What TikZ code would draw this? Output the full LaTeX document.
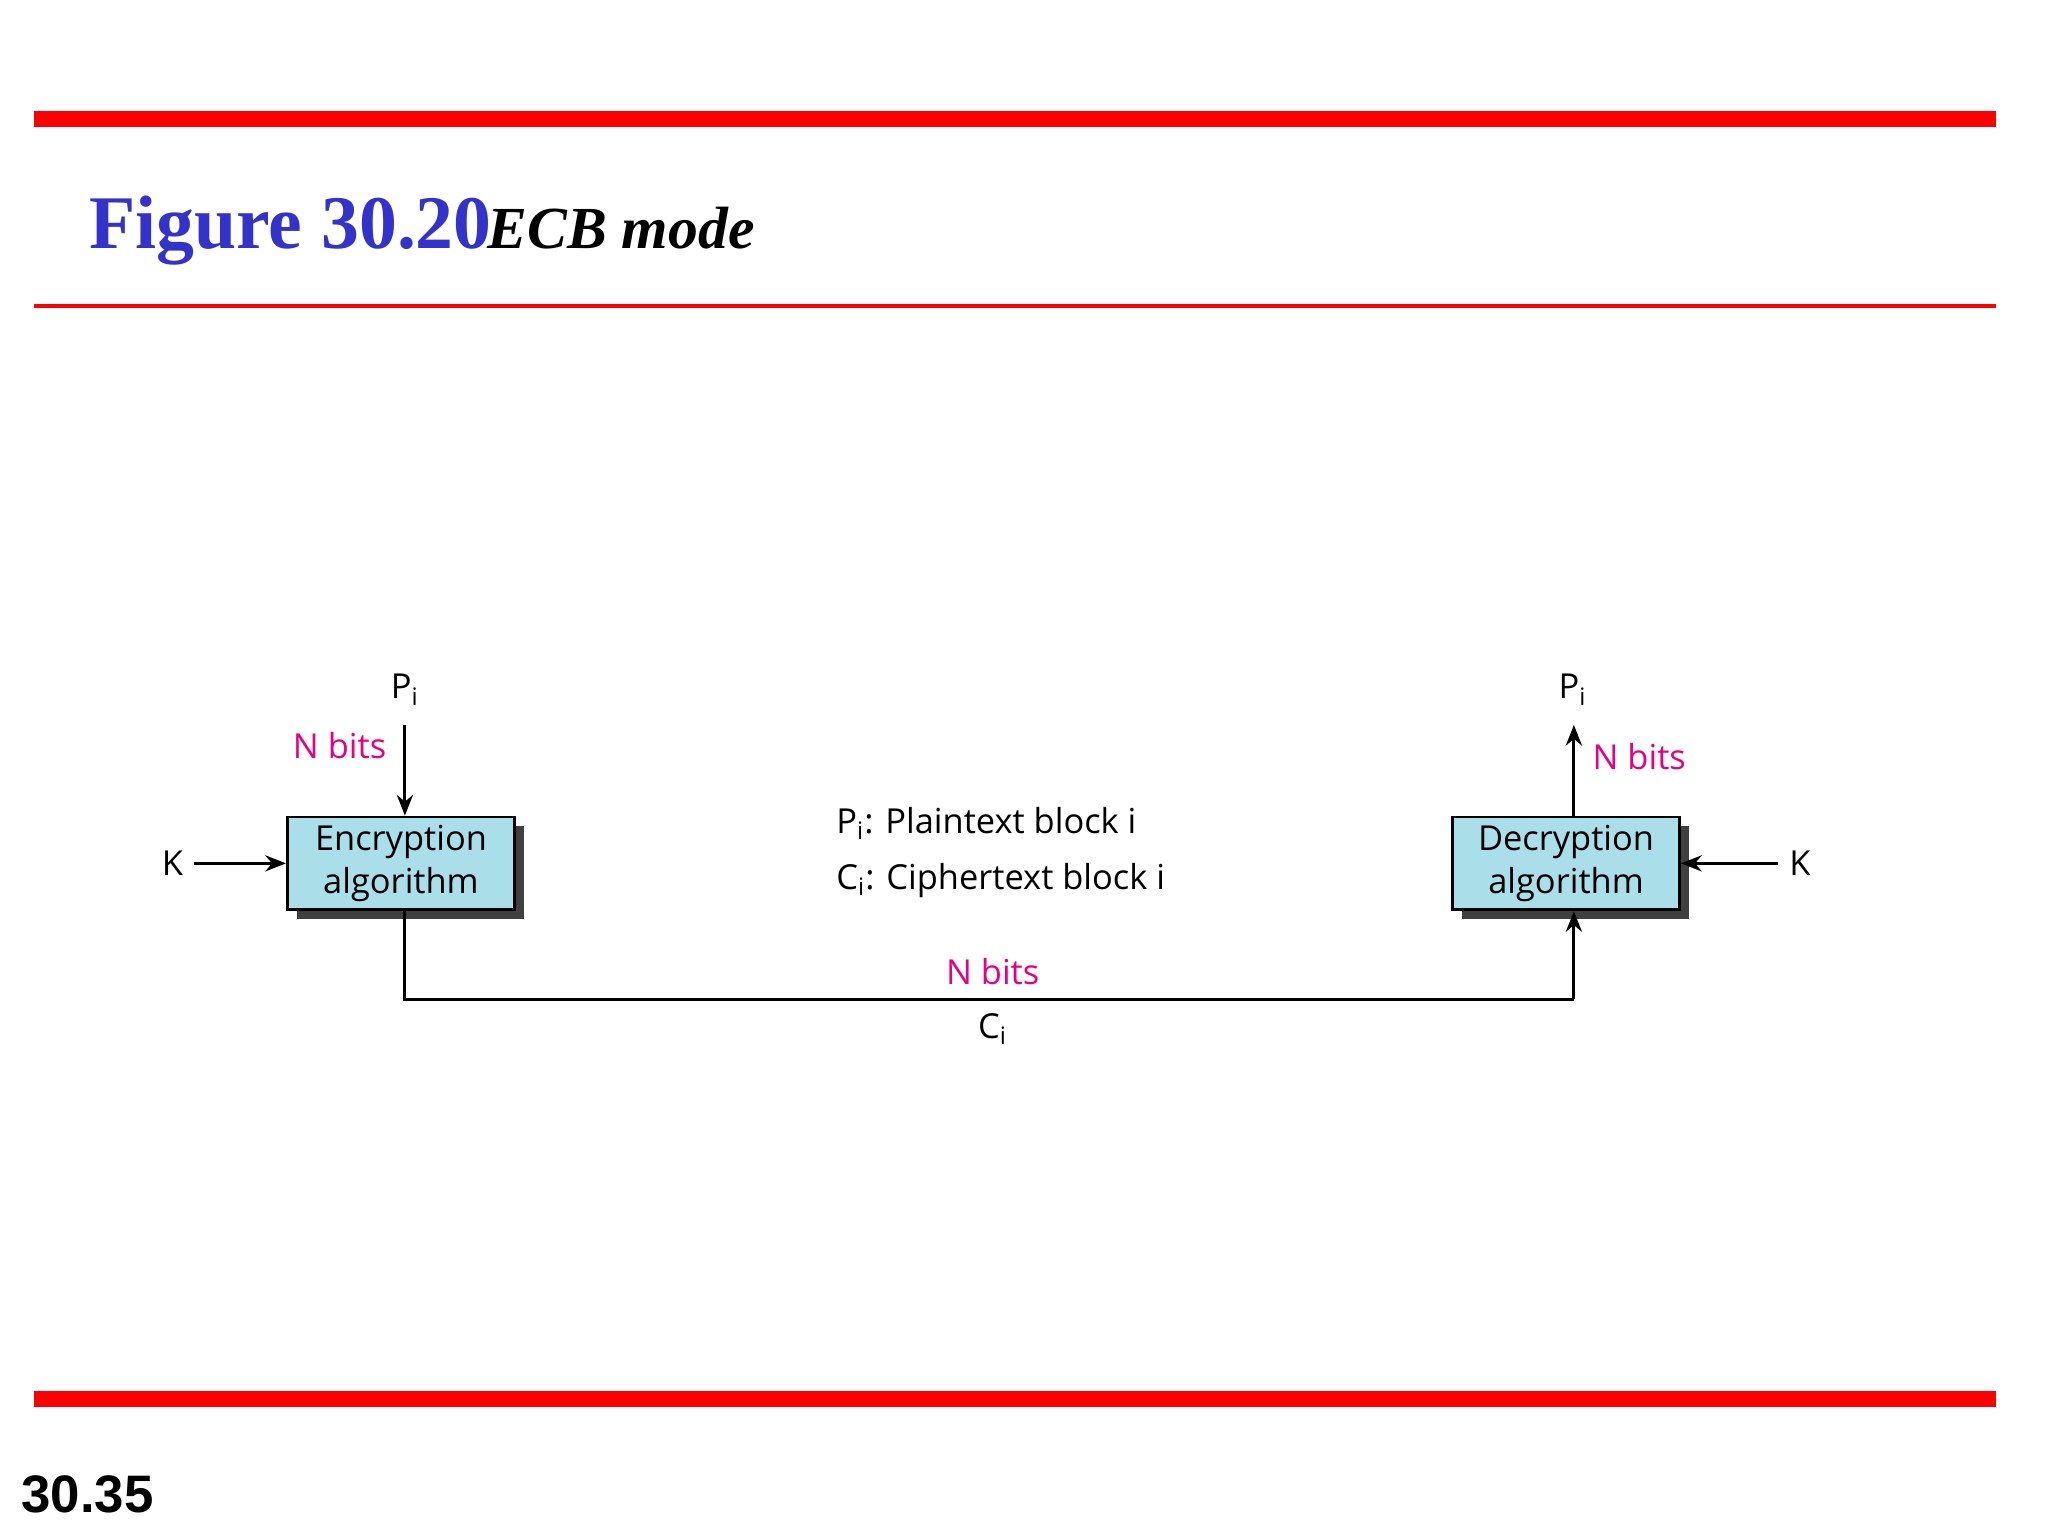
\documentclass[tikz,border=0pt]{standalone}
\usepackage{fontspec}
\setmainfont{Liberation Serif}
\newfontfamily\diag{Open Sans}
\newfontfamily\arialf{Liberation Sans}
\usetikzlibrary{arrows.meta}
\definecolor{titleblue}{RGB}{51,51,204}
\definecolor{boxcyan}{RGB}{170,222,232}
\definecolor{nbits}{RGB}{230,0,130}
\tikzset{
  algbox/.style={draw=black,line width=1.2pt,fill=boxcyan,minimum width=3.48cm,minimum height=1.42cm,align=center,inner sep=0pt,
    font=\diag\fontsize{15}{19}\selectfont},
  shadowbox/.style={fill=black!75,minimum width=3.48cm,minimum height=1.42cm,inner sep=0pt},
  lbl/.style={font=\diag\fontsize{15}{18}\selectfont,inner sep=0pt},
  nb/.style={lbl,text=nbits},
  conn/.style={line width=1.3pt,-{Stealth[length=9pt,width=7pt]}},
  wire/.style={line width=1.3pt}
}
\begin{document}
\begin{tikzpicture}[x=0.02cm,y=-0.02cm]
\useasboundingbox (0,0) rectangle (1568,1176);
\fill[red] (26,85) rectangle (1528,97);
\fill[red] (26,233) rectangle (1528,236);
\fill[red] (26,1065) rectangle (1528,1077);
\node[anchor=base west,inner sep=0pt,text=titleblue,font=\bfseries\fontsize{33}{36}\selectfont] (t1) at (68,190) {Figure 30.20};
\node[anchor=base west,inner sep=0pt,font=\bfseries\itshape\fontsize{26}{30}\selectfont] (t2) at (373,190) {ECB mode};
\node[anchor=base west,inner sep=0pt,font=\arialf\bfseries\fontsize{23}{26}\selectfont] (pg) at (16,1158) {30.35};
% boxes
\node[shadowbox] at (314,668) {};
\node[algbox] (enc) at (307,661) {Encryption\\algorithm};
\node[shadowbox] at (1206,668) {};
\node[algbox] (dec) at (1199,661) {Decryption\\algorithm};
% left side
\node[lbl] (pl) at (310,528) {P\textsubscript{i}};
\coordinate (plend) at (310,555);
\draw[conn] (plend) -- (plend |- enc.north);
\node[nb] (nbl) at (260,571) {N bits};
\node[lbl] (kl) at (132,661) {K};
\draw[conn] (kl.east) ++(8,0) -- (enc.west);
% bottom path
\coordinate (b1) at (310,765);
\coordinate (b2) at (1205,765);
\draw[wire] (enc.south -| b1) -- (b1) -- (b2);
\draw[conn] (b2) -- (b2 |- dec.south);
\node[nb] (nbm) at (760,744) {N bits};
\node[lbl] (cm) at (760,788) {C\textsubscript{i}};
% right side
\node[lbl] (pr) at (1204,528) {P\textsubscript{i}};
\coordinate (prend) at (1205,555);
\draw[conn] (prend |- dec.north) -- (prend);
\node[nb] (nbr) at (1255,579) {N bits};
\node[lbl] (kr) at (1378,661) {K};
\draw[conn] (kr.west) ++(-8,0) -- (dec.east);
% legend
\node[lbl,anchor=base west] (lg1) at (640,638) {P\textsubscript{i}: Plaintext block i};
\node[lbl,anchor=base west] (lg2) at (640,681) {C\textsubscript{i}: Ciphertext block i};
\end{tikzpicture}
\end{document}
